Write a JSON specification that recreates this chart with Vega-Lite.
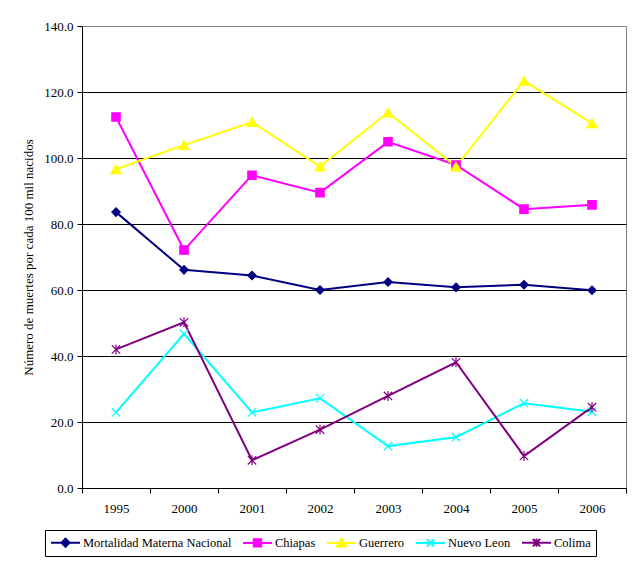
{
  "$schema": "https://vega.github.io/schema/vega-lite/v6.json",
  "autosize": "none",
  "width": 544,
  "height": 462,
  "padding": {"left": 82, "top": 26, "right": 15, "bottom": 74},
  "background": "white",
  "config": {
    "font": "Liberation Serif",
    "view": {"stroke": "#808080", "strokeWidth": 1},
    "axis": {"labelFont": "Liberation Serif", "titleFont": "Liberation Serif", "labelColor": "black", "titleColor": "black", "labelFontSize": 13, "titleFontSize": 13, "titleFontWeight": "normal", "domainColor": "black", "tickColor": "black"},
    "legend": {"labelFont": "Liberation Serif", "labelFontSize": 12.5, "labelColor": "black"}
  },
  "data": {"values": [
    {"serie": "Mortalidad Materna Nacional", "anio": "1995", "valor": 83.6},
    {"serie": "Mortalidad Materna Nacional", "anio": "2000", "valor": 66.1},
    {"serie": "Mortalidad Materna Nacional", "anio": "2001", "valor": 64.4},
    {"serie": "Mortalidad Materna Nacional", "anio": "2002", "valor": 60.0},
    {"serie": "Mortalidad Materna Nacional", "anio": "2003", "valor": 62.4},
    {"serie": "Mortalidad Materna Nacional", "anio": "2004", "valor": 60.8},
    {"serie": "Mortalidad Materna Nacional", "anio": "2005", "valor": 61.6},
    {"serie": "Mortalidad Materna Nacional", "anio": "2006", "valor": 59.9},
    {"serie": "Chiapas", "anio": "1995", "valor": 112.4},
    {"serie": "Chiapas", "anio": "2000", "valor": 72.1},
    {"serie": "Chiapas", "anio": "2001", "valor": 94.8},
    {"serie": "Chiapas", "anio": "2002", "valor": 89.5},
    {"serie": "Chiapas", "anio": "2003", "valor": 104.9},
    {"serie": "Chiapas", "anio": "2004", "valor": 97.9},
    {"serie": "Chiapas", "anio": "2005", "valor": 84.5},
    {"serie": "Chiapas", "anio": "2006", "valor": 85.8},
    {"serie": "Guerrero", "anio": "1995", "valor": 96.6},
    {"serie": "Guerrero", "anio": "2000", "valor": 103.9},
    {"serie": "Guerrero", "anio": "2001", "valor": 110.9},
    {"serie": "Guerrero", "anio": "2002", "valor": 97.4},
    {"serie": "Guerrero", "anio": "2003", "valor": 113.8},
    {"serie": "Guerrero", "anio": "2004", "valor": 97.4},
    {"serie": "Guerrero", "anio": "2005", "valor": 123.4},
    {"serie": "Guerrero", "anio": "2006", "valor": 110.5},
    {"serie": "Nuevo Leon", "anio": "1995", "valor": 22.9},
    {"serie": "Nuevo Leon", "anio": "2000", "valor": 46.7},
    {"serie": "Nuevo Leon", "anio": "2001", "valor": 22.9},
    {"serie": "Nuevo Leon", "anio": "2002", "valor": 27.2},
    {"serie": "Nuevo Leon", "anio": "2003", "valor": 12.7},
    {"serie": "Nuevo Leon", "anio": "2004", "valor": 15.4},
    {"serie": "Nuevo Leon", "anio": "2005", "valor": 25.7},
    {"serie": "Nuevo Leon", "anio": "2006", "valor": 23.1},
    {"serie": "Colima", "anio": "1995", "valor": 42.0},
    {"serie": "Colima", "anio": "2000", "valor": 50.2},
    {"serie": "Colima", "anio": "2001", "valor": 8.4},
    {"serie": "Colima", "anio": "2002", "valor": 17.7},
    {"serie": "Colima", "anio": "2003", "valor": 27.9},
    {"serie": "Colima", "anio": "2004", "valor": 38.1},
    {"serie": "Colima", "anio": "2005", "valor": 9.7},
    {"serie": "Colima", "anio": "2006", "valor": 24.5}
  ]},
  "encoding": {
    "x": {
      "field": "anio", "type": "ordinal", "bandPosition": 0.5,
      "scale": {"type": "band", "paddingInner": 0, "paddingOuter": 0},
      "axis": {"title": null, "labelAngle": 0, "tickBand": "extent", "tickSize": 5, "labelPadding": 9, "grid": false, "domainWidth": 1}
    },
    "y": {
      "field": "valor", "type": "quantitative",
      "scale": {"domain": [0, 140], "nice": false},
      "axis": {"title": "Número de muertes por cada 100 mil nacidos", "values": [0, 20, 40, 60, 80, 100, 120, 140], "format": ".1f", "tickSize": 5, "labelPadding": 4, "titlePadding": 8, "grid": true, "gridColor": {"condition": {"test": "datum.value == 140", "value": "#808080"}, "value": "black"}, "gridOpacity": 1}
    },
    "color": {
      "field": "serie", "type": "nominal",
      "scale": {"domain": ["Mortalidad Materna Nacional", "Chiapas", "Guerrero", "Nuevo Leon", "Colima"], "range": ["#000080", "#FF00FF", "#FFFF00", "#00FFFF", "#800080"]},
      "legend": {
        "title": null, "orient": "none", "legendX": -37, "legendY": 504, "direction": "horizontal",
        "strokeColor": "black", "padding": 5, "symbolSize": 169, "labelOffset": 18, "columnPadding": 7, "symbolStrokeWidth": 2,
        "encode": {"symbols": {"update": {
          "shape": {"signal": "datum.value == 'Mortalidad Materna Nacional' ? 'M-1,0H3.46M0.61,0L1.23,-0.62L1.85,0L1.23,0.62Z' : datum.value == 'Chiapas' ? 'M-1,0H3.46M0.66,-0.57H1.8V0.57H0.66Z' : datum.value == 'Guerrero' ? 'M-1,0H3.46M0.53,0.55L1.23,-0.65L1.93,0.55Z' : datum.value == 'Nuevo Leon' ? 'M-1,0H3.46M0.66,-0.57L1.8,0.57M0.66,0.57L1.8,-0.57' : 'M-1,0H3.46M0.66,-0.57L1.8,0.57M0.66,0.57L1.8,-0.57M1.23,-0.65V0.65'"},
          "fill": {"signal": "scale('color', datum.value)"},
          "fillOpacity": {"value": 1},
          "stroke": {"signal": "scale('color', datum.value)"},
          "strokeWidth": {"value": 2},
          "opacity": {"value": 1}
        }}}
      }
    }
  },
  "layer": [
    {
      "mark": {"type": "line", "strokeWidth": 2},
      "encoding": {
        "strokeWidth": {"condition": {"test": "datum.serie == 'Mortalidad Materna Nacional'", "value": 3}, "value": 2}
      }
    },
    {
      "mark": {"type": "point", "filled": true, "opacity": 1, "strokeWidth": 1.2},
      "encoding": {
        "shape": {
          "condition": [
            {"test": "datum.serie == 'Mortalidad Materna Nacional'", "value": "diamond"},
            {"test": "datum.serie == 'Chiapas'", "value": "square"},
            {"test": "datum.serie == 'Guerrero'", "value": "triangle-up"},
            {"test": "datum.serie == 'Nuevo Leon'", "value": "M-1,-1L1,1M-1,1L1,-1"}
          ],
          "value": "M-1,-1L1,1M-1,1L1,-1M0,-1.2V1.2"
        },
        "stroke": {
          "field": "serie", "type": "nominal", "legend": null,
          "scale": {"domain": ["Mortalidad Materna Nacional", "Chiapas", "Guerrero", "Nuevo Leon", "Colima"], "range": ["#000080", "#FF00FF", "#FFFF00", "#00FFFF", "#800080"]}
        },
        "size": {"condition": {"test": "datum.serie == 'Guerrero'", "value": 100}, "value": 70}
      }
    }
  ]
}
